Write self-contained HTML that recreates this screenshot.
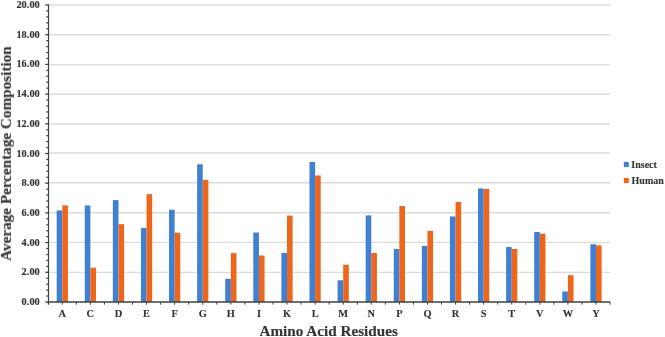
<!DOCTYPE html>
<html><head><meta charset="utf-8"><style>
html,body{margin:0;padding:0;background:#fff;}
body{width:665px;height:337px;overflow:hidden;}
svg{display:block;}
text{will-change:transform;stroke:#333333;stroke-width:0.12px;}
.t{font-family:"Liberation Serif",serif;font-weight:bold;font-size:10.4px;fill:#333333;}
.ti{font-family:"Liberation Serif",serif;font-weight:bold;font-size:15.2px;fill:#333333;}
.lg{font-family:"Liberation Serif",serif;font-weight:bold;font-size:10px;fill:#333333;letter-spacing:0px;}
</style></head><body>
<svg width="665" height="337" viewBox="0 0 665 337">
<line x1="48.25" x2="610.05" y1="272.4" y2="272.4" stroke="#DCDCDC" stroke-width="1.4"/>
<line x1="48.25" x2="610.05" y1="242.4" y2="242.4" stroke="#DCDCDC" stroke-width="1.4"/>
<line x1="48.25" x2="610.05" y1="212.7" y2="212.7" stroke="#DCDCDC" stroke-width="1.4"/>
<line x1="48.25" x2="610.05" y1="182.7" y2="182.7" stroke="#DCDCDC" stroke-width="1.4"/>
<line x1="48.25" x2="610.05" y1="153.05" y2="153.05" stroke="#DCDCDC" stroke-width="1.4"/>
<line x1="48.25" x2="610.05" y1="124.05" y2="124.05" stroke="#DCDCDC" stroke-width="1.4"/>
<line x1="48.25" x2="610.05" y1="94.2" y2="94.2" stroke="#DCDCDC" stroke-width="1.4"/>
<line x1="48.25" x2="610.05" y1="64.6" y2="64.6" stroke="#DCDCDC" stroke-width="1.4"/>
<line x1="48.25" x2="610.05" y1="34.7" y2="34.7" stroke="#DCDCDC" stroke-width="1.4"/>
<line x1="48.25" x2="610.05" y1="5.0" y2="5.0" stroke="#DCDCDC" stroke-width="1.4"/>
<rect x="56.68" y="210.38" width="5.62" height="91.62" fill="#3F80D2"/>
<rect x="62.30" y="205.33" width="5.62" height="96.67" fill="#EE661C"/>
<rect x="84.76" y="205.48" width="5.62" height="96.52" fill="#3F80D2"/>
<rect x="90.38" y="267.70" width="5.62" height="34.30" fill="#EE661C"/>
<rect x="112.85" y="200.13" width="5.62" height="101.87" fill="#3F80D2"/>
<rect x="118.47" y="224.19" width="5.62" height="77.81" fill="#EE661C"/>
<rect x="140.94" y="227.90" width="5.62" height="74.10" fill="#3F80D2"/>
<rect x="146.56" y="194.19" width="5.62" height="107.81" fill="#EE661C"/>
<rect x="169.03" y="209.78" width="5.62" height="92.22" fill="#3F80D2"/>
<rect x="174.66" y="232.65" width="5.62" height="69.35" fill="#EE661C"/>
<rect x="197.12" y="164.34" width="5.62" height="137.66" fill="#3F80D2"/>
<rect x="202.75" y="179.93" width="5.62" height="122.07" fill="#EE661C"/>
<rect x="225.22" y="278.83" width="5.62" height="23.17" fill="#3F80D2"/>
<rect x="230.84" y="253.14" width="5.62" height="48.86" fill="#EE661C"/>
<rect x="253.31" y="232.50" width="5.62" height="69.50" fill="#3F80D2"/>
<rect x="258.93" y="255.52" width="5.62" height="46.48" fill="#EE661C"/>
<rect x="281.39" y="252.85" width="5.62" height="49.15" fill="#3F80D2"/>
<rect x="287.01" y="215.57" width="5.62" height="86.43" fill="#EE661C"/>
<rect x="309.49" y="161.96" width="5.62" height="140.04" fill="#3F80D2"/>
<rect x="315.11" y="175.48" width="5.62" height="126.52" fill="#EE661C"/>
<rect x="337.57" y="280.32" width="5.62" height="21.68" fill="#3F80D2"/>
<rect x="343.19" y="264.73" width="5.62" height="37.27" fill="#EE661C"/>
<rect x="365.67" y="215.42" width="5.62" height="86.58" fill="#3F80D2"/>
<rect x="371.29" y="253.00" width="5.62" height="49.00" fill="#EE661C"/>
<rect x="393.75" y="248.99" width="5.62" height="53.01" fill="#3F80D2"/>
<rect x="399.38" y="206.07" width="5.62" height="95.93" fill="#EE661C"/>
<rect x="421.84" y="246.02" width="5.62" height="55.98" fill="#3F80D2"/>
<rect x="427.46" y="230.87" width="5.62" height="71.13" fill="#EE661C"/>
<rect x="449.94" y="216.46" width="5.62" height="85.54" fill="#3F80D2"/>
<rect x="455.56" y="201.91" width="5.62" height="100.09" fill="#EE661C"/>
<rect x="478.02" y="188.40" width="5.62" height="113.60" fill="#3F80D2"/>
<rect x="483.64" y="188.99" width="5.62" height="113.01" fill="#EE661C"/>
<rect x="506.12" y="247.06" width="5.62" height="54.95" fill="#3F80D2"/>
<rect x="511.74" y="248.99" width="5.62" height="53.01" fill="#EE661C"/>
<rect x="534.21" y="231.91" width="5.62" height="70.09" fill="#3F80D2"/>
<rect x="539.83" y="233.69" width="5.62" height="68.31" fill="#EE661C"/>
<rect x="562.29" y="291.46" width="5.62" height="10.54" fill="#3F80D2"/>
<rect x="567.91" y="275.12" width="5.62" height="26.88" fill="#EE661C"/>
<rect x="590.38" y="244.23" width="5.62" height="57.77" fill="#3F80D2"/>
<rect x="596.00" y="245.42" width="5.62" height="56.58" fill="#EE661C"/>
<line x1="48.5" x2="48.5" y1="4.40" y2="304.50" stroke="#404040" stroke-width="1.2"/>
<line x1="45.2" x2="48.5" y1="302.00" y2="302.00" stroke="#404040" stroke-width="1.25"/>
<line x1="46.3" x2="48.5" y1="296.06" y2="296.06" stroke="#404040" stroke-width="1.25"/>
<line x1="46.3" x2="48.5" y1="290.12" y2="290.12" stroke="#404040" stroke-width="1.25"/>
<line x1="46.3" x2="48.5" y1="284.18" y2="284.18" stroke="#404040" stroke-width="1.25"/>
<line x1="46.3" x2="48.5" y1="278.24" y2="278.24" stroke="#404040" stroke-width="1.25"/>
<line x1="45.2" x2="48.5" y1="272.30" y2="272.30" stroke="#404040" stroke-width="1.25"/>
<line x1="46.3" x2="48.5" y1="266.36" y2="266.36" stroke="#404040" stroke-width="1.25"/>
<line x1="46.3" x2="48.5" y1="260.42" y2="260.42" stroke="#404040" stroke-width="1.25"/>
<line x1="46.3" x2="48.5" y1="254.48" y2="254.48" stroke="#404040" stroke-width="1.25"/>
<line x1="46.3" x2="48.5" y1="248.54" y2="248.54" stroke="#404040" stroke-width="1.25"/>
<line x1="45.2" x2="48.5" y1="242.60" y2="242.60" stroke="#404040" stroke-width="1.25"/>
<line x1="46.3" x2="48.5" y1="236.66" y2="236.66" stroke="#404040" stroke-width="1.25"/>
<line x1="46.3" x2="48.5" y1="230.72" y2="230.72" stroke="#404040" stroke-width="1.25"/>
<line x1="46.3" x2="48.5" y1="224.78" y2="224.78" stroke="#404040" stroke-width="1.25"/>
<line x1="46.3" x2="48.5" y1="218.84" y2="218.84" stroke="#404040" stroke-width="1.25"/>
<line x1="45.2" x2="48.5" y1="212.90" y2="212.90" stroke="#404040" stroke-width="1.25"/>
<line x1="46.3" x2="48.5" y1="206.96" y2="206.96" stroke="#404040" stroke-width="1.25"/>
<line x1="46.3" x2="48.5" y1="201.02" y2="201.02" stroke="#404040" stroke-width="1.25"/>
<line x1="46.3" x2="48.5" y1="195.08" y2="195.08" stroke="#404040" stroke-width="1.25"/>
<line x1="46.3" x2="48.5" y1="189.14" y2="189.14" stroke="#404040" stroke-width="1.25"/>
<line x1="45.2" x2="48.5" y1="183.20" y2="183.20" stroke="#404040" stroke-width="1.25"/>
<line x1="46.3" x2="48.5" y1="177.26" y2="177.26" stroke="#404040" stroke-width="1.25"/>
<line x1="46.3" x2="48.5" y1="171.32" y2="171.32" stroke="#404040" stroke-width="1.25"/>
<line x1="46.3" x2="48.5" y1="165.38" y2="165.38" stroke="#404040" stroke-width="1.25"/>
<line x1="46.3" x2="48.5" y1="159.44" y2="159.44" stroke="#404040" stroke-width="1.25"/>
<line x1="45.2" x2="48.5" y1="153.50" y2="153.50" stroke="#404040" stroke-width="1.25"/>
<line x1="46.3" x2="48.5" y1="147.56" y2="147.56" stroke="#404040" stroke-width="1.25"/>
<line x1="46.3" x2="48.5" y1="141.62" y2="141.62" stroke="#404040" stroke-width="1.25"/>
<line x1="46.3" x2="48.5" y1="135.68" y2="135.68" stroke="#404040" stroke-width="1.25"/>
<line x1="46.3" x2="48.5" y1="129.74" y2="129.74" stroke="#404040" stroke-width="1.25"/>
<line x1="45.2" x2="48.5" y1="123.80" y2="123.80" stroke="#404040" stroke-width="1.25"/>
<line x1="46.3" x2="48.5" y1="117.86" y2="117.86" stroke="#404040" stroke-width="1.25"/>
<line x1="46.3" x2="48.5" y1="111.92" y2="111.92" stroke="#404040" stroke-width="1.25"/>
<line x1="46.3" x2="48.5" y1="105.98" y2="105.98" stroke="#404040" stroke-width="1.25"/>
<line x1="46.3" x2="48.5" y1="100.04" y2="100.04" stroke="#404040" stroke-width="1.25"/>
<line x1="45.2" x2="48.5" y1="94.10" y2="94.10" stroke="#404040" stroke-width="1.25"/>
<line x1="46.3" x2="48.5" y1="88.16" y2="88.16" stroke="#404040" stroke-width="1.25"/>
<line x1="46.3" x2="48.5" y1="82.22" y2="82.22" stroke="#404040" stroke-width="1.25"/>
<line x1="46.3" x2="48.5" y1="76.28" y2="76.28" stroke="#404040" stroke-width="1.25"/>
<line x1="46.3" x2="48.5" y1="70.34" y2="70.34" stroke="#404040" stroke-width="1.25"/>
<line x1="45.2" x2="48.5" y1="64.40" y2="64.40" stroke="#404040" stroke-width="1.25"/>
<line x1="46.3" x2="48.5" y1="58.46" y2="58.46" stroke="#404040" stroke-width="1.25"/>
<line x1="46.3" x2="48.5" y1="52.52" y2="52.52" stroke="#404040" stroke-width="1.25"/>
<line x1="46.3" x2="48.5" y1="46.58" y2="46.58" stroke="#404040" stroke-width="1.25"/>
<line x1="46.3" x2="48.5" y1="40.64" y2="40.64" stroke="#404040" stroke-width="1.25"/>
<line x1="45.2" x2="48.5" y1="34.70" y2="34.70" stroke="#404040" stroke-width="1.25"/>
<line x1="46.3" x2="48.5" y1="28.76" y2="28.76" stroke="#404040" stroke-width="1.25"/>
<line x1="46.3" x2="48.5" y1="22.82" y2="22.82" stroke="#404040" stroke-width="1.25"/>
<line x1="46.3" x2="48.5" y1="16.88" y2="16.88" stroke="#404040" stroke-width="1.25"/>
<line x1="46.3" x2="48.5" y1="10.94" y2="10.94" stroke="#404040" stroke-width="1.25"/>
<line x1="45.2" x2="48.5" y1="5.00" y2="5.00" stroke="#404040" stroke-width="1.25"/>
<line x1="47.9" x2="610.05" y1="302.00" y2="302.00" stroke="#404040" stroke-width="1.3"/>
<line x1="48.25" x2="48.25" y1="302.00" y2="304.60" stroke="#404040" stroke-width="1"/>
<line x1="62.30" x2="62.30" y1="302.00" y2="304.60" stroke="#404040" stroke-width="1"/>
<line x1="76.34" x2="76.34" y1="302.00" y2="304.60" stroke="#404040" stroke-width="1"/>
<line x1="90.38" x2="90.38" y1="302.00" y2="304.60" stroke="#404040" stroke-width="1"/>
<line x1="104.43" x2="104.43" y1="302.00" y2="304.60" stroke="#404040" stroke-width="1"/>
<line x1="118.47" x2="118.47" y1="302.00" y2="304.60" stroke="#404040" stroke-width="1"/>
<line x1="132.52" x2="132.52" y1="302.00" y2="304.60" stroke="#404040" stroke-width="1"/>
<line x1="146.56" x2="146.56" y1="302.00" y2="304.60" stroke="#404040" stroke-width="1"/>
<line x1="160.61" x2="160.61" y1="302.00" y2="304.60" stroke="#404040" stroke-width="1"/>
<line x1="174.66" x2="174.66" y1="302.00" y2="304.60" stroke="#404040" stroke-width="1"/>
<line x1="188.70" x2="188.70" y1="302.00" y2="304.60" stroke="#404040" stroke-width="1"/>
<line x1="202.75" x2="202.75" y1="302.00" y2="304.60" stroke="#404040" stroke-width="1"/>
<line x1="216.79" x2="216.79" y1="302.00" y2="304.60" stroke="#404040" stroke-width="1"/>
<line x1="230.84" x2="230.84" y1="302.00" y2="304.60" stroke="#404040" stroke-width="1"/>
<line x1="244.88" x2="244.88" y1="302.00" y2="304.60" stroke="#404040" stroke-width="1"/>
<line x1="258.93" x2="258.93" y1="302.00" y2="304.60" stroke="#404040" stroke-width="1"/>
<line x1="272.97" x2="272.97" y1="302.00" y2="304.60" stroke="#404040" stroke-width="1"/>
<line x1="287.01" x2="287.01" y1="302.00" y2="304.60" stroke="#404040" stroke-width="1"/>
<line x1="301.06" x2="301.06" y1="302.00" y2="304.60" stroke="#404040" stroke-width="1"/>
<line x1="315.11" x2="315.11" y1="302.00" y2="304.60" stroke="#404040" stroke-width="1"/>
<line x1="329.15" x2="329.15" y1="302.00" y2="304.60" stroke="#404040" stroke-width="1"/>
<line x1="343.19" x2="343.19" y1="302.00" y2="304.60" stroke="#404040" stroke-width="1"/>
<line x1="357.24" x2="357.24" y1="302.00" y2="304.60" stroke="#404040" stroke-width="1"/>
<line x1="371.29" x2="371.29" y1="302.00" y2="304.60" stroke="#404040" stroke-width="1"/>
<line x1="385.33" x2="385.33" y1="302.00" y2="304.60" stroke="#404040" stroke-width="1"/>
<line x1="399.38" x2="399.38" y1="302.00" y2="304.60" stroke="#404040" stroke-width="1"/>
<line x1="413.42" x2="413.42" y1="302.00" y2="304.60" stroke="#404040" stroke-width="1"/>
<line x1="427.46" x2="427.46" y1="302.00" y2="304.60" stroke="#404040" stroke-width="1"/>
<line x1="441.51" x2="441.51" y1="302.00" y2="304.60" stroke="#404040" stroke-width="1"/>
<line x1="455.56" x2="455.56" y1="302.00" y2="304.60" stroke="#404040" stroke-width="1"/>
<line x1="469.60" x2="469.60" y1="302.00" y2="304.60" stroke="#404040" stroke-width="1"/>
<line x1="483.64" x2="483.64" y1="302.00" y2="304.60" stroke="#404040" stroke-width="1"/>
<line x1="497.69" x2="497.69" y1="302.00" y2="304.60" stroke="#404040" stroke-width="1"/>
<line x1="511.74" x2="511.74" y1="302.00" y2="304.60" stroke="#404040" stroke-width="1"/>
<line x1="525.78" x2="525.78" y1="302.00" y2="304.60" stroke="#404040" stroke-width="1"/>
<line x1="539.83" x2="539.83" y1="302.00" y2="304.60" stroke="#404040" stroke-width="1"/>
<line x1="553.87" x2="553.87" y1="302.00" y2="304.60" stroke="#404040" stroke-width="1"/>
<line x1="567.91" x2="567.91" y1="302.00" y2="304.60" stroke="#404040" stroke-width="1"/>
<line x1="581.96" x2="581.96" y1="302.00" y2="304.60" stroke="#404040" stroke-width="1"/>
<line x1="596.00" x2="596.00" y1="302.00" y2="304.60" stroke="#404040" stroke-width="1"/>
<line x1="610.05" x2="610.05" y1="302.00" y2="304.60" stroke="#404040" stroke-width="1"/>
<text x="39.8" y="305.00" text-anchor="end" class="t">0.00</text>
<text x="39.8" y="275.30" text-anchor="end" class="t">2.00</text>
<text x="39.8" y="245.60" text-anchor="end" class="t">4.00</text>
<text x="39.8" y="215.90" text-anchor="end" class="t">6.00</text>
<text x="39.8" y="186.20" text-anchor="end" class="t">8.00</text>
<text x="39.8" y="156.50" text-anchor="end" class="t">10.00</text>
<text x="39.8" y="126.80" text-anchor="end" class="t">12.00</text>
<text x="39.8" y="97.10" text-anchor="end" class="t">14.00</text>
<text x="39.8" y="67.40" text-anchor="end" class="t">16.00</text>
<text x="39.8" y="37.70" text-anchor="end" class="t">18.00</text>
<text x="39.8" y="8.00" text-anchor="end" class="t">20.00</text>
<text x="62.30" y="317.2" text-anchor="middle" class="t">A</text>
<text x="90.38" y="317.2" text-anchor="middle" class="t">C</text>
<text x="118.47" y="317.2" text-anchor="middle" class="t">D</text>
<text x="146.56" y="317.2" text-anchor="middle" class="t">E</text>
<text x="174.66" y="317.2" text-anchor="middle" class="t">F</text>
<text x="202.75" y="317.2" text-anchor="middle" class="t">G</text>
<text x="230.84" y="317.2" text-anchor="middle" class="t">H</text>
<text x="258.93" y="317.2" text-anchor="middle" class="t">I</text>
<text x="287.01" y="317.2" text-anchor="middle" class="t">K</text>
<text x="315.11" y="317.2" text-anchor="middle" class="t">L</text>
<text x="343.19" y="317.2" text-anchor="middle" class="t">M</text>
<text x="371.29" y="317.2" text-anchor="middle" class="t">N</text>
<text x="399.38" y="317.2" text-anchor="middle" class="t">P</text>
<text x="427.46" y="317.2" text-anchor="middle" class="t">Q</text>
<text x="455.56" y="317.2" text-anchor="middle" class="t">R</text>
<text x="483.64" y="317.2" text-anchor="middle" class="t">S</text>
<text x="511.74" y="317.2" text-anchor="middle" class="t">T</text>
<text x="539.83" y="317.2" text-anchor="middle" class="t">V</text>
<text x="567.91" y="317.2" text-anchor="middle" class="t">W</text>
<text x="596.00" y="317.2" text-anchor="middle" class="t">Y</text>
<text x="328.7" y="336.2" text-anchor="middle" class="ti">Amino Acid Residues</text>
<text transform="translate(10.9,153.6) rotate(-90)" text-anchor="middle" class="ti">Average Percentage Composition</text>
<rect x="623.8" y="161.9" width="5" height="5.2" fill="#3F80D2"/>
<rect x="623.8" y="177.9" width="5" height="5.3" fill="#EE661C"/>
<text x="631.3" y="168.2" class="lg">Insect</text>
<text x="631.6" y="184.2" class="lg">Human</text>
</svg>
</body></html>
